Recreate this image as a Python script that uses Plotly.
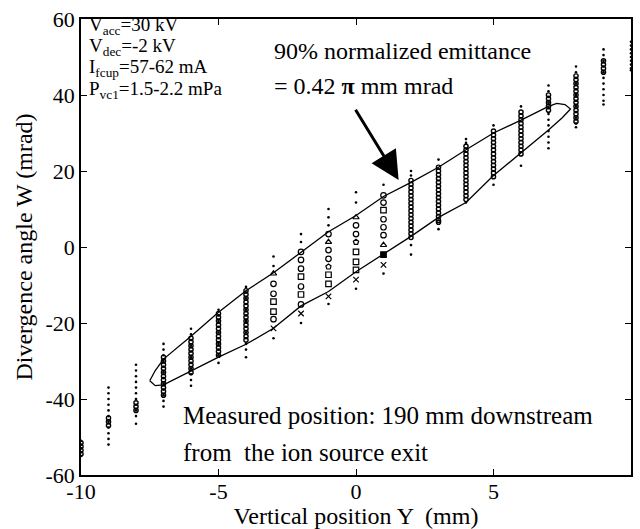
import plotly.graph_objects as go

# ---------------- data ----------------
# small scan dots: (Y position mm, list of W mrad)
dot_cols = [-10, -9, -8, -7, -6, -5, -4, -3, -2, -1, 0, 1, 2, 3, 4, 5, 6, 7, 8, 9, 10]
dot_w = [
    [-51, -52, -53, -54, -55],
    [-37, -38.5, -40, -41.5, -43, -44.5, -46, -47.5, -49, -50.5, -52],
    [-31, -32.5, -34, -35.5, -37, -38.5, -40, -41.5, -43, -44.5, -46.5],
    [-25.5, -27, -28.5, -30, -31.5, -33, -34.5, -36, -37.5, -39, -40.5, -42],
    [-21.5, -23, -24.5, -26, -27.5, -29, -30.5, -32, -33.5, -35, -36.5],
    [-16.5, -18, -19.5, -21, -22.5, -24, -25.5, -27, -28.5, -30.5],
    [-10.5, -12, -13.5, -15, -16.5, -18, -19.5, -21, -22.5, -24, -25.5, -27, -29],
    [-2.5, -5, -24],
    [3.4, 1.3, -20],
    [10, 7.8, 5.7, -15],
    [14.4, 11.7, -11],
    [16.4, -7],
    [20, 18.8, 0.5, -2],
    [23, 4.7],
    [28.4, 27.4, 11.7],
    [32, 16.4],
    [37, 21.4],
    [42.5, 41, 39.5, 38, 36.5, 35, 33.5, 32, 30.5, 29, 27.5, 26],
    [47.5, 46, 44.5, 43, 41.5, 40, 38.5, 37, 35.5, 34, 32.5, 31.5],
    [52, 50.5, 49, 47.5, 46, 44.5, 43, 41.5, 40, 38.5, 37.5],
    [54, 53, 52, 51, 50, 49, 48, 47, 46.5],
]

# densely packed small markers
dense_cols = [-10, -9, -8, -7, -6, -5, -4, 2, 3, 4, 5, 6, 7, 8, 9]
dense_w = [
    [-51.5, -52.5, -53.5, -54.5],
    [-45, -46, -47],
    [-41, -42, -43],
    [-29, -30, -31, -32, -33, -34, -35, -36, -37, -38, -39],
    [-24, -25, -26, -27, -28, -29, -30, -31, -32, -33],
    [-17.5, -18.5, -19.5, -20.5, -21.5, -22.5, -23.5, -24.5, -25.5, -26.5, -27.5, -28.5],
    [-11.5, -12.5, -13.5, -14.5, -15.5, -16.5, -17.5, -18.5, -19.5, -20.5, -21.5, -22.5, -23.5, -24.5],
    [17.5, 16.5, 15.5, 14.5, 13.5, 12.5, 11.5, 10.5, 9.5, 8.5, 7.5, 6.5, 5.5, 4.5, 3.5, 2.5],
    [21, 20, 19, 18, 17, 16, 15, 14, 13, 12, 11, 10, 9, 8, 7, 6.5],
    [26.5, 25.5, 24.5, 23.5, 22.5, 21.5, 20.5, 19.5, 18.5, 17.5, 16.5, 15.5, 14.5, 13.5, 12.5],
    [30.5, 29.5, 28.5, 27.5, 26.5, 25.5, 24.5, 23.5, 22.5, 21.5, 20.5, 19.5, 18.5],
    [35.5, 34.5, 33.5, 32.5, 31.5, 30.5, 29.5, 28.5, 27.5, 26.5, 25.5, 24.5],
    [40, 39, 38, 37, 36],
    [45, 44, 43, 42, 41, 40, 39, 38, 37, 36, 35, 34, 33],
    [49, 48, 47, 46],
]

# open markers in the central columns
open_cols = [-3, -2, -1, 0, 1]
open_w = [
    [-7, -9.7, -12.3, -14.4, -17, -19, -21.4],
    [-1.3, -3.4, -5.7, -7.8, -10.4, -12.5, -15.1, -17.5],
    [3.4, 1.3, -0.8, -3.1, -5.2, -7.3, -9.7, -13],
    [7.8, 5.7, 3.4, 1.3, -1.3, -3.9, -6, -8.6],
    [13.6, 11.7, 9.7, 7.3, 5.2, 3.1, 0.5, -2, -4.7],
]
open_sym = [
    ["triangle-up-open", "circle-open", "circle-open", "square-open", "square-open", "circle-open", "x-thin-open"],
    ["circle-open", "circle-open", "circle-open", "square-open", "circle-open", "square-open", "circle-open", "x-thin-open"],
    ["circle-open", "triangle-up-open", "circle-open", "circle-open", "pentagon-open", "square-open", "square-open", "x-thin-open"],
    ["triangle-up-open", "circle-open", "circle-open", "pentagon-open", "square-open", "square-open", "square-open", "x-thin-open"],
    ["circle-open", "circle-open", "square-open", "circle-open", "circle-open", "circle-open", "triangle-up-open", "square", "x-thin-open"],
]

# 90% emittance contour (hand-drawn curve)
contour_y = [-7.5, -7.3, -7.0, -6.5, -6.0, -5.0, -4.0, -3.0, -2.0, -1.0, 0.0, 1.0, 2.0, 3.0,
             4.0, 5.0, 6.0, 7.0, 7.3, 7.6, 7.8, 7.5, 7.0, 6.0, 5.0, 4.0, 3.0, 2.0, 1.0, 0.0,
             -1.0, -2.0, -3.0, -4.0, -5.0, -6.0, -7.0, -7.3, -7.5]
contour_w = [-35.2, -32.5, -29.5, -26.5, -23.5, -17.2, -11.5, -6.8, -1.5, 4.0, 8.3, 13.3, 17.0, 21.0,
             25.6, 30.0, 33.4, 37.0, 37.8, 37.5, 36.3, 34.0, 30.8, 24.8, 18.8, 11.7, 7.8, 2.8, -1.8, -6.5,
             -11.7, -15.5, -21.4, -25.6, -29.0, -32.7, -36.3, -36.5, -35.2]

x_ticks = [-10, -5, 0, 5, 10]
y_ticks = [-60, -40, -20, 0, 20, 40, 60]

conditions = ["V<sub>acc</sub>=30 kV", "V<sub>dec</sub>=-2 kV",
              "I<sub>fcup</sub>=57-62 mA", "P<sub>vc1</sub>=1.5-2.2 mPa"]
cond_w = [58.2, 52.6, 47.0, 41.4]

FONT = "Liberation Serif"

# ---------------- figure ----------------
fig = go.Figure()

dx, dy = [], []
for c, ws in zip(dot_cols, dot_w):
    dx += [c] * len(ws)
    dy += ws
fig.add_trace(go.Scatter(x=dx, y=dy, mode="markers",
                         marker=dict(color="black", size=2.6, symbol="circle"),
                         hoverinfo="skip", showlegend=False))

sx, sy = [], []
for c, ws in zip(dense_cols, dense_w):
    sx += [c] * len(ws)
    sy += ws
fig.add_trace(go.Scatter(x=sx, y=sy, mode="markers",
                         marker=dict(color="black", size=4.2, symbol="circle-open",
                                     line=dict(color="black", width=1.4)),
                         hoverinfo="skip", showlegend=False))

ox, oy, osym = [], [], []
for c, ws, ss in zip(open_cols, open_w, open_sym):
    ox += [c] * len(ws)
    oy += ws
    osym += ss
fig.add_trace(go.Scatter(x=ox, y=oy, mode="markers",
                         marker=dict(color="black", size=5.5, symbol=osym,
                                     line=dict(color="black", width=1.2)),
                         hoverinfo="skip", showlegend=False))

fig.add_trace(go.Scatter(x=contour_y, y=contour_w, mode="lines",
                         line=dict(color="black", width=1.3),
                         hoverinfo="skip", showlegend=False))

for t, w in zip(conditions, cond_w):
    fig.add_annotation(x=-9.78, y=w, xref="x", yref="y", text=t, showarrow=False,
                       xanchor="left", yanchor="middle",
                       font=dict(family=FONT, size=19, color="black"))

fig.add_annotation(x=-3.05, y=51.7, text="90% normalized emittance", showarrow=False,
                   xanchor="left", yanchor="middle",
                   font=dict(family=FONT, size=24, color="black"))
fig.add_annotation(x=-3.05, y=42.3, text="= 0.42 <b>π</b> mm mrad", showarrow=False,
                   xanchor="left", yanchor="middle",
                   font=dict(family=FONT, size=24, color="black"))

fig.add_annotation(x=1.55, y=17.6, ax=-0.05, ay=36.5, xref="x", yref="y",
                   axref="x", ayref="y", text="", showarrow=True,
                   arrowhead=2, arrowsize=1.9, arrowwidth=3, arrowcolor="black")

fig.add_annotation(x=-6.35, y=-44.4, text="Measured position: 190 mm downstream", showarrow=False,
                   xanchor="left", yanchor="middle",
                   font=dict(family=FONT, size=25, color="black"))
fig.add_annotation(x=-6.35, y=-54.0, text="from  the ion source exit", showarrow=False,
                   xanchor="left", yanchor="middle",
                   font=dict(family=FONT, size=25, color="black"))

axis_common = dict(showgrid=False, zeroline=False, showline=True, linecolor="black",
                   linewidth=1.5, mirror="allticks", ticks="inside", ticklen=6,
                   tickcolor="black", tickwidth=1.2,
                   tickfont=dict(family=FONT, size=22, color="black"))

fig.update_xaxes(range=[-10, 10], tickvals=x_ticks, ticktext=[str(v) for v in x_ticks],
                 ticklabelstandoff=-4,
                 title=dict(text="Vertical position Y  (mm)", standoff=0,
                            font=dict(family=FONT, size=24, color="black")),
                 **axis_common)
fig.update_yaxes(range=[-60, 60], tickvals=y_ticks, ticktext=[str(v) for v in y_ticks],
                 title=dict(text="Divergence angle W (mrad)", standoff=6,
                            font=dict(family=FONT, size=24, color="black")),
                 **axis_common)

fig.update_layout(width=640, height=529, margin=dict(l=81, r=7, t=13, b=54),
                  paper_bgcolor="white", plot_bgcolor="white")

fig.write_html("out.html")
